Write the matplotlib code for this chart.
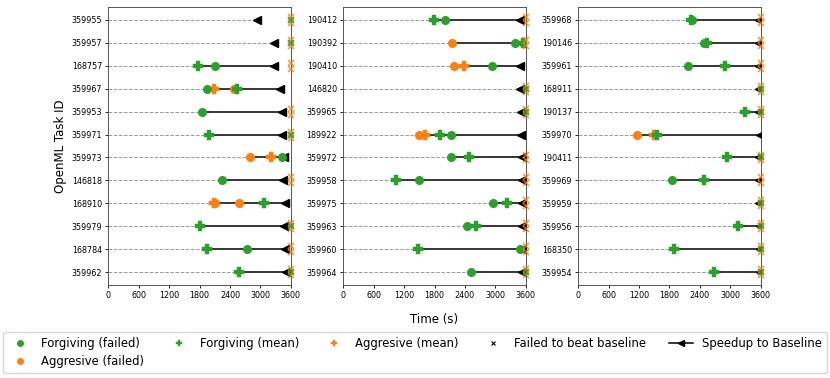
import numpy as np
import matplotlib
matplotlib.use("Agg")
import matplotlib.pyplot as plt
from matplotlib.lines import Line2D

nan = np.nan

# ---------------- data ----------------
ids1 = ["359955", "359957", "168757", "359967", "359953", "359971",
        "359973", "146818", "168910", "359979", "168784", "359962"]
base1 = [2940, 3270, 3260, 3380, 3435, 3435, 3475, 3455, 3490, 3475, 3490, 3500]
fmean1 = [nan, nan, 1765, 2535, nan, 1995, nan, nan, 3065, 1800, 1940, 2585]
ffail1 = [[], [], [2105], [1940], [1855], [], [3425], [2240], [], [], [2740], []]
amean1 = [nan, nan, nan, 2080, nan, nan, 3210, nan, 2095, nan, nan, nan]
afail1 = [[], [], [], [2490], [], [], [2790], [], [2100, 2575], [], [], []]
fx1 = [1, 1, 0, 0, 0, 1, 0, 0, 0, 1, 0, 1]
ax1 = [1, 1, 1, 0, 1, 1, 0, 1, 0, 1, 1, 1]

ids2 = ["190412", "190392", "190410", "146820", "359965", "189922",
        "359972", "359958", "359975", "359963", "359960", "359964"]
base2 = [3495, 3510, 3495, 3495, 3505, 3505, 3520, 3520, 3520, 3520, 3530, 3535]
fmean2 = [1795, 3540, nan, nan, nan, 1905, 2490, 1040, 3230, 2625, 1470, nan]
ffail2 = [[2005], [3385], [2930], [], [], [2120], [2120], [1500], [2955], [2450], [3480], [2515]]
amean2 = [nan, nan, 2385, nan, nan, 1605, nan, nan, nan, nan, nan, nan]
afail2 = [[], [2140], [2185], [], [], [1490], [], [], [], [], [], []]
fx2 = [0, 0, 0, 1, 1, 0, 0, 0, 0, 0, 0, 1]
ax2 = [1, 1, 0, 1, 1, 0, 1, 1, 1, 1, 1, 1]

ids3 = ["359968", "190146", "359961", "168911", "190137", "359970",
        "190411", "359969", "359959", "359956", "168350", "359954"]
base3 = [3565, 3565, 3565, 3570, 3570, 3580, 3570, 3570, 3575, 3580, 3580, 3580]
fmean3 = [2220, 2550, 2895, nan, 3290, 1545, 2935, 2475, nan, 3145, 1880, 2680]
ffail3 = [[2235], [2475], [2175], [], [], [], [], [1845], [], [], [], []]
amean3 = [nan, nan, nan, nan, nan, 1490, nan, nan, nan, nan, nan, nan]
afail3 = [[], [], [], [], [], [1150], [], [], [], [], [], []]
fx3 = [0, 0, 0, 1, 1, 0, 1, 0, 1, 1, 1, 1]
ax3 = [1, 1, 1, 1, 1, 0, 1, 1, 1, 1, 1, 1]

xticks = [0, 600, 1200, 1800, 2400, 3000, 3600]
TLIM = 3600

panels = [
    (ids1, base1, fmean1, ffail1, amean1, afail1, fx1, ax1),
    (ids2, base2, fmean2, ffail2, amean2, afail2, fx2, ax2),
    (ids3, base3, fmean3, ffail3, amean3, afail3, fx3, ax3),
]

GREEN = "#2ca02c"
ORANGE = "#ff7f0e"

fig = plt.figure(figsize=(8.3, 3.78), dpi=100)
lefts = [0.1305, 0.4136, 0.6967]
axes = [fig.add_axes([l, 0.246, 0.2198, 0.7355]) for l in lefts]

for ax, (ids, base, fmean, ffail, amean, afail, fx, axx) in zip(axes, panels):
    n = len(ids)
    for i in range(n):
        y = i
        pts = [base[i]] + list(ffail[i]) + list(afail[i])
        if not np.isnan(fmean[i]):
            pts.append(fmean[i])
        if not np.isnan(amean[i]):
            pts.append(amean[i])
        lo = min(pts)
        ax.plot([0, lo], [y, y], ls="--", color="gray", lw=0.7, alpha=0.8, zorder=1)
        if lo < base[i]:
            ax.plot([lo, base[i]], [y, y], color="black", lw=1.1, zorder=2)
        ax.plot(base[i], y, marker="<", color="black", ms=5.5, ls="none", zorder=3)
        for v in afail[i]:
            ax.plot(v, y, "o", color=ORANGE, ms=5.5, zorder=4)
        if not np.isnan(amean[i]):
            ax.plot(amean[i], y, "P", color=ORANGE, ms=7, mew=0.3, zorder=4)
        for v in ffail[i]:
            ax.plot(v, y, "o", color=GREEN, ms=5.5, zorder=5)
        if not np.isnan(fmean[i]):
            ax.plot(fmean[i], y, "P", color=GREEN, ms=7, mew=0.3, zorder=5)
        if axx[i]:
            ax.plot([TLIM, TLIM], [y - 0.13, y + 0.13], ls="none", marker="x",
                    color=ORANGE, ms=4.2, mew=1.1, alpha=0.85, zorder=6, clip_on=False)
        if fx[i]:
            ax.plot(TLIM, y, ls="none", marker="x", color=GREEN,
                    ms=4.2, mew=1.3, alpha=0.9, zorder=7, clip_on=False)
    ax.set_xlim(0, TLIM)
    ax.set_ylim(n - 0.45, -0.55)
    ax.set_yticks(range(n))
    ax.set_yticklabels(ids)
    ax.set_xticks(xticks)
    ax.tick_params(labelsize=5.8, length=2.5, width=0.6, pad=2)
    for s in ax.spines.values():
        s.set_linewidth(0.7)
        s.set_color("#555555")

axes[0].set_ylabel("OpenML Task ID", fontsize=8.5, labelpad=3)
fig.text(0.523, 0.156, "Time (s)", ha="center", va="center", fontsize=8.5)

handles = [
    Line2D([], [], ls="none", marker="o", color=GREEN, ms=4),
    Line2D([], [], ls="none", marker="o", color=ORANGE, ms=4),
    Line2D([], [], ls="none", marker="P", color=GREEN, ms=5, mew=0.3),
    Line2D([], [], ls="none", marker="P", color=ORANGE, ms=5, mew=0.3),
    Line2D([], [], ls="none", marker="x", color="black", ms=3.5, mew=0.8),
    Line2D([], [], color="black", marker="<", lw=1.1, ms=4),
]
labels = ["Forgiving (failed)", "Aggresive (failed)", "Forgiving (mean)",
          "Aggresive (mean)", "Failed to beat baseline", "Speedup to Baseline"]
fig.legend(handles, labels, ncol=5, loc="lower left", mode="expand",
           bbox_to_anchor=(0.004, 0.013, 0.992, 0.098), fontsize=8.4,
           borderaxespad=0, frameon=True, handlelength=2.0, numpoints=1)

fig.savefig("out.png", dpi=100)
